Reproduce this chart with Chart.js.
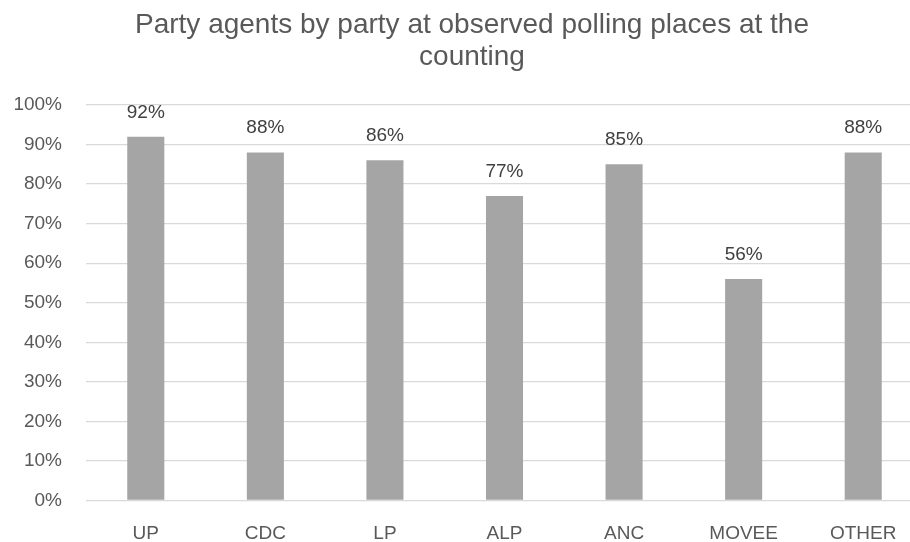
<!DOCTYPE html>
<html>
<head>
<meta charset="utf-8">
<script src="https://cdn.jsdelivr.net/npm/chart.js@4/dist/chart.umd.min.js"></script>
<style>
    html, body { margin: 0; padding: 0; background: #fff; overflow: hidden; }
    #wrap { width: 944px; height: 542px; }
</style>
</head>
<body>
<div id="wrap"><canvas id="agentChart" width="944" height="542"></canvas></div>
<script>
// Chart data
const titleLines = ['Party agents by party at observed polling places at the', 'counting'];
const parties = ['UP', 'CDC', 'LP', 'ALP', 'ANC', 'MOVEE', 'OTHER'];
const agentShare = [92, 88, 86, 77, 85, 56, 88];
const yTicks = [0, 10, 20, 30, 40, 50, 60, 70, 80, 90, 100];

const FONT = "'Liberation Sans', Arial, sans-serif";

// Two-line title centred over the original chart frame
const chartTitle = {
    id: 'chartTitle',
    afterDraw(chart) {
        const ctx = chart.ctx;
        ctx.save();
        ctx.font = '28px ' + FONT;
        ctx.fillStyle = '#595959';
        ctx.textAlign = 'center';
        ctx.textBaseline = 'alphabetic';
        titleLines.forEach((line, i) => {
            ctx.fillText(line, 472, 33 + i * 32);
        });
        ctx.restore();
    }
};

// Value labels above each bar
const valueLabels = {
    id: 'valueLabels',
    afterDatasetsDraw(chart) {
        const ctx = chart.ctx;
        const meta = chart.getDatasetMeta(0);
        ctx.save();
        ctx.font = '19px ' + FONT;
        ctx.fillStyle = '#404040';
        ctx.textAlign = 'center';
        ctx.textBaseline = 'alphabetic';
        meta.data.forEach((bar, i) => {
            ctx.fillText(agentShare[i] + '%', bar.x, bar.y - 19);
        });
        ctx.restore();
    }
};

function initAgentChart() {
    const ctx = document.getElementById('agentChart').getContext('2d');

    new Chart(ctx, {
        type: 'bar',
        data: {
            labels: parties,
            datasets: [{
                data: agentShare,
                backgroundColor: '#a5a5a5',
                borderWidth: 0,
                categoryPercentage: 1,
                barPercentage: 0.31
            }]
        },
        options: {
            responsive: false,
            animation: false,
            layout: {
                padding: { left: 0, right: 21, top: 105, bottom: 0 }
            },
            plugins: {
                legend: { display: false },
                tooltip: { enabled: false },
                title: { display: false }
            },
            scales: {
                y: {
                    min: 0,
                    max: 100,
                    afterFit(scale) { scale.width = 86; },
                    afterBuildTicks(scale) {
                        scale.ticks = yTicks.map(v => ({ value: v }));
                    },
                    ticks: {
                        color: '#595959',
                        font: { family: FONT, size: 19 },
                        padding: 24,
                        callback: v => v + '%'
                    },
                    grid: {
                        color: '#d9d9d9',
                        lineWidth: 1.3,
                        drawTicks: false
                    },
                    border: { display: false }
                },
                x: {
                    afterFit(scale) { scale.height = 41.5; },
                    ticks: {
                        color: '#595959',
                        font: { family: FONT, size: 19 },
                        padding: 22
                    },
                    grid: { display: false, drawTicks: false },
                    border: { display: false }
                }
            }
        },
        plugins: [valueLabels, chartTitle]
    });
}

document.addEventListener('DOMContentLoaded', initAgentChart);
</script>
</body>
</html>
